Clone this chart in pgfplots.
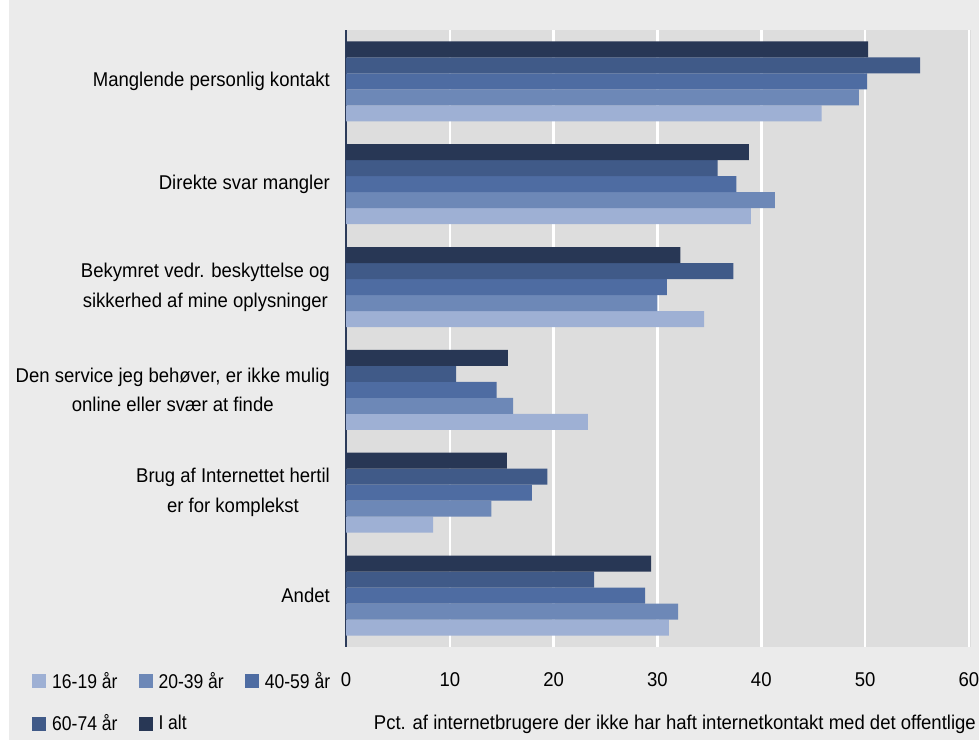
\documentclass[border=0pt]{standalone}
\usepackage{fontspec}
\setmainfont[FakeStretch=0.93]{Liberation Sans}
\newfontfamily\legfont[FakeStretch=0.88]{Liberation Sans}
\usepackage{pgfplots}
\pgfplotsset{compat=1.18}

\definecolor{cA}{HTML}{9EB0D4}
\definecolor{cB}{HTML}{6D88B7}
\definecolor{cC}{HTML}{4E6CA2}
\definecolor{cD}{HTML}{405A88}
\definecolor{cE}{HTML}{283755}
\definecolor{outerbg}{HTML}{EBEBEB}
\definecolor{plotbg}{HTML}{DDDDDD}
\definecolor{axisc}{HTML}{2C3B5A}

\begin{document}
\begin{tikzpicture}[x=1bp,y=1bp]
\useasboundingbox (0,0) rectangle (979,740);
\fill[white] (0,0) rectangle (979,740);
\fill[outerbg] (9,0) rectangle (979,740);
\begin{axis}[
    at={(346bp,93bp)}, anchor=south west,
    scale only axis, width=625bp, height=617bp,
    xbar, bar width=16bp,
    xmin=0, xmax=60.2, ymin=-0.5, ymax=5.5,
    axis background/.style={fill=plotbg},
    axis lines*=left,
    x axis line style={draw=none},
    y axis line style={draw=axisc, line width=2bp},
    xmajorgrids, major grid style={white, line width=2.5bp},
    major tick length=0pt,
    font=\fontsize{20}{30}\selectfont,
    /pgf/number format/assume math mode=true,
    xtick={0,10,...,60},
    xticklabel style={anchor=base, yshift=-40bp, inner sep=0pt},
    ytick={0,1,2,3,4,5},
    yticklabels={Andet,
        {Brug af Internettet hertil\\er for komplekst},
        {Den service jeg behøver, er ikke mulig\\online eller svær at finde},
        {Bekymret vedr. beskyttelse og\\sikkerhed af mine oplysninger},
        Direkte svar mangler,
        Manglende personlig kontakt},
    yticklabel style={align=center, inner sep=0pt, xshift=-16bp},
    xlabel={Pct. af internetbrugere der ikke har haft internetkontakt med det offentlige},
    xlabel style={at={(axis description cs:1,0)}, anchor=base east, yshift=-83bp, xshift=5bp, inner sep=0pt},
    legend image code/.code={\fill[#1] (0bp,-7bp) rectangle (14bp,7bp);},
    legend columns=3,
    legend style={draw=none, fill=none, inner sep=0pt,
        font=\legfont\fontsize{20}{30}\selectfont,
        at={(axis description cs:-0.5024,-0.0405)}, anchor=north west,
        nodes={inner sep=0pt},
        row sep=25bp,
        /tikz/every odd column/.append style={column sep=6bp},
        /tikz/every even column/.append style={column sep=21bp}},
    legend cell align=left,
]
\addplot[fill=cA, draw=none, bar shift=-32bp] coordinates {(45.8,5) (39.0,4) (34.5,3) (23.3,2) (8.4,1) (31.1,0)};
\addplot[fill=cB, draw=none, bar shift=-16bp] coordinates {(49.4,5) (41.3,4) (30.0,3) (16.1,2) (14.0,1) (32.0,0)};
\addplot[fill=cC, draw=none, bar shift=0bp] coordinates {(50.2,5) (37.6,4) (30.9,3) (14.5,2) (17.9,1) (28.8,0)};
\addplot[fill=cD, draw=none, bar shift=16bp] coordinates {(55.3,5) (35.8,4) (37.3,3) (10.6,2) (19.4,1) (23.9,0)};
\addplot[fill=cE, draw=none, bar shift=32bp] coordinates {(50.3,5) (38.8,4) (32.2,3) (15.6,2) (15.5,1) (29.4,0)};
\legend{16-19 år, 20-39 år, 40-59 år, 60-74 år, I alt}
\end{axis}
\end{tikzpicture}
\end{document}
